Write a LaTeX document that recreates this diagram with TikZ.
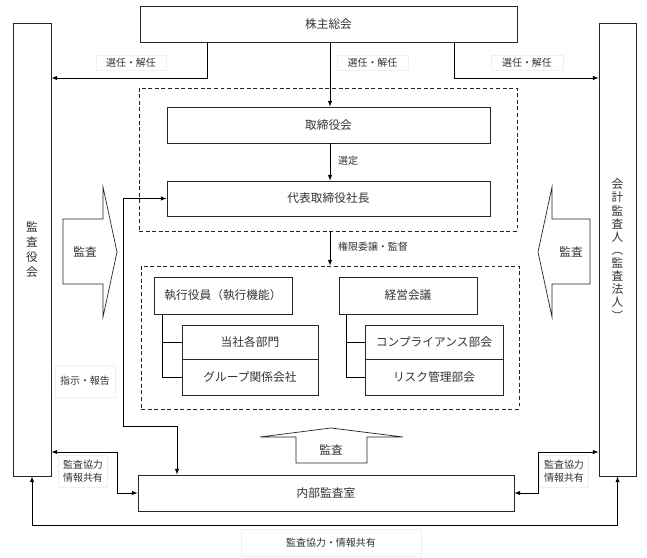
\documentclass[tikz,border=0pt]{standalone}
\usepackage{fontspec}
\setmainfont{Noto Sans CJK JP}
\usepackage{tikz}
\usetikzlibrary{arrows, calc}
\tikzstyle{orgbox} = [rectangle, draw=black!85, fill=white, line width=0.7pt, text=black!80,
font=\fontsize{10}{12}\selectfont, inner sep=0pt, align=center]
\tikzstyle{group} = [rectangle, draw=black!85, line width=0.7pt, dash pattern=on 3.4pt off 2.2pt, inner sep=0pt]
\tikzstyle{lbl} = [rectangle, draw=black!6, fill=white, text=black!80,
font=\fontsize{8.5}{11}\selectfont, inner sep=0pt, align=center]
\tikzstyle{arrow} = [line width=0.7pt, ->, >=latex]
\tikzstyle{twoway} = [line width=0.7pt, <->, >=latex]
\tikzstyle{line} = [line width=0.7pt, -]
\tikzstyle{bigarrow} = [line width=0.6pt, draw=black!85, fill=white]

\begin{document}
\begin{tikzpicture}[x=0.03cm, y=-0.03cm]

        \useasboundingbox (0,0) rectangle (647,557);

        % \draw[help lines, step=50] (0,0) grid (647,557);

        \node (GM) [orgbox, minimum width=11.31cm, minimum height=1.08cm] at (328.5,24) {株主総会};

        \node (KAN) [orgbox, minimum width=1.14cm, minimum height=13.59cm,
            font=\fontsize{10}{12.8}\selectfont] at (32,249.5) {監\\査\\役\\会};
        \node (KAI) [orgbox, minimum width=1.11cm, minimum height=13.59cm,
            font=\fontsize{10}{11.2}\selectfont] at (617.5,249.5) {会\\計\\監\\査\\人\\︵\\監\\査\\法\\人\\︶};

        \node (D1) [group, minimum width=11.34cm, minimum height=4.29cm] at (328,159.5) {};
        \node (D2) [group, minimum width=11.34cm, minimum height=4.29cm] at (330,337.5) {};

        \node (BOD) [orgbox, minimum width=9.69cm, minimum height=1.08cm] at (328.5,125) {取締役会};
        \node (CEO) [orgbox, minimum width=9.69cm, minimum height=1.05cm] at (328.5,198.5) {代表取締役社長};

        \node (EXE) [orgbox, minimum width=4.14cm, minimum height=1.11cm] at (223,295.5) {執行役員（執行機能）};
        \node (DEP) [orgbox, minimum width=4.08cm, minimum height=1.02cm] at (250,342) {当社各部門};
        \node (GRP) [orgbox, minimum width=4.08cm, minimum height=1.08cm] at (250,377) {グループ関係会社};

        \node (MTG) [orgbox, minimum width=4.14cm, minimum height=1.11cm] at (408,295.5) {経営会議};
        \node (CMP) [orgbox, minimum width=4.14cm, minimum height=1.02cm] at (434,342) {コンプライアンス部会};
        \node (RSK) [orgbox, minimum width=4.14cm, minimum height=1.08cm] at (434,377) {リスク管理部会};

        \node (IA) [orgbox, minimum width=11.28cm, minimum height=1.08cm] at (326,493) {内部監査室};

        % audit block arrows
        \draw [bigarrow] (63,219) -- (103,219) -- (103,187) -- (117,252) -- (103,317) -- (103,284) -- (63,284) -- cycle;
        \node (AL) [text=black!80, font=\fontsize{10}{12}\selectfont] at (85,252) {監査};
        \draw [bigarrow] (590,219) -- (552,219) -- (552,187) -- (538,252) -- (552,317) -- (552,284) -- (590,284) -- cycle;
        \node (AR) [text=black!80, font=\fontsize{10}{12}\selectfont] at (571,252) {監査};
        \draw [bigarrow] (296,463) -- (296,437) -- (260,437) -- (331,428) -- (403,437) -- (367,437) -- (367,463) -- cycle;
        \node (AB) [text=black!80, font=\fontsize{10}{12}\selectfont] at (331,450) {監査};

        % election
        \coordinate (SL) at (207,78);
        \coordinate (SR) at (454,78);
        \coordinate (SM) at (330,0);
        \draw [arrow] (GM.south -| SL) |- (KAN.east |- SL);
        \draw [arrow] (GM.south -| SM) -- (BOD.north -| SM);
        \draw [arrow] (GM.south -| SR) |- (KAI.west |- SR);
        \node (L1) [lbl, minimum width=2.1cm, minimum height=0.45cm] at (131,62.5) {選任・解任};
        \node (L2) [lbl, minimum width=2.13cm, minimum height=0.45cm] at (372.5,62.5) {選任・解任};
        \node (L3) [lbl, minimum width=2.16cm, minimum height=0.45cm] at (527,62.5) {選任・解任};

        \draw [arrow] (BOD.south -| SM) -- (CEO.north -| SM);
        \node (L4) [lbl, draw=none, fill=none] at (348,161) {選定};

        \draw [arrow] (D1.south -| SM) -- (D2.north -| SM);
        \node (L5) [lbl, draw=none, fill=none] at (373,247) {権限委譲・監督};

        % trees
        \coordinate (E1) at ([xshift=0.27cm]EXE.south west);
        \draw [line] (E1) |- (GRP.west);
        \draw [line] (E1 |- DEP.west) -- (DEP.west);
        \coordinate (M1) at ([xshift=0.24cm]MTG.south west);
        \draw [line] (M1) |- (RSK.west);
        \draw [line] (M1 |- CMP.west) -- (CMP.west);

        % instruction / report
        \coordinate (R1) at (123,426);
        \coordinate (R2) at (177,426);
        \draw [twoway] (CEO.west) -| (R1) -- (R2) -- (R2 |- IA.north);
        \node (L6) [lbl, minimum width=1.8cm, minimum height=0.96cm] at (85,381) {指示・報告};

        % cooperation
        \coordinate (C1) at (117,452);
        \coordinate (C2) at (538,452);
        \coordinate (C3) at (0,525);
        \draw [twoway] (KAN.east |- C1) -- (C1) |- (IA.west);
        \draw [twoway] (IA.east) -| (C2) -- (KAI.west |- C2);
        \draw [twoway] (KAN.south) -- (KAN.south |- C3) -- (KAI.south |- C3) -- (KAI.south);
        \node (L7) [lbl, minimum width=1.47cm, minimum height=0.96cm] at (83,471) {監査協力\\情報共有};
        \node (L8) [lbl, minimum width=1.47cm, minimum height=0.96cm] at (564,471) {監査協力\\情報共有};
        \node (L9) [lbl, minimum width=5.4cm, minimum height=0.8cm] at (331,543) {監査協力・情報共有};

    \end{tikzpicture}
\end{document}
